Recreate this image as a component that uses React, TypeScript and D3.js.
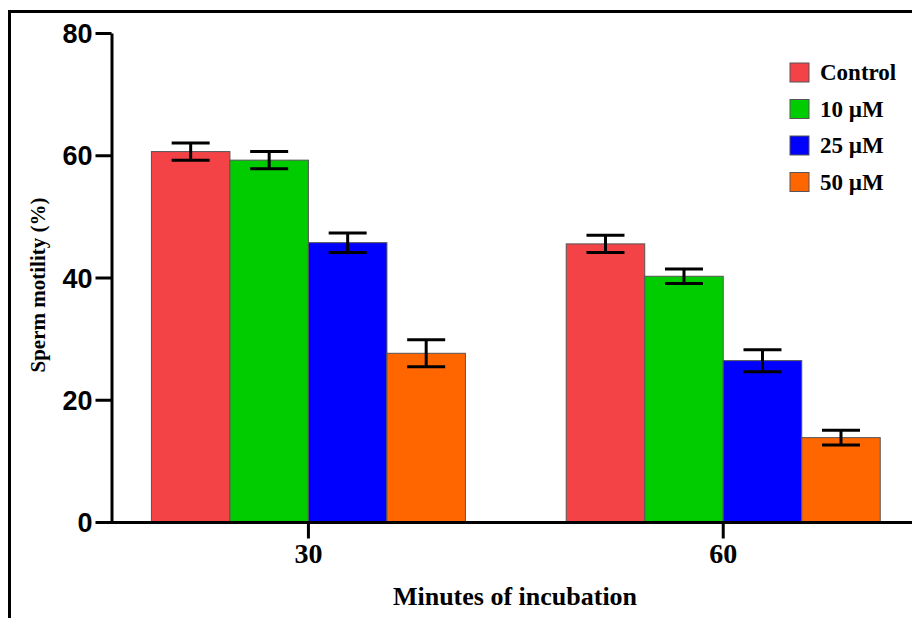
import React, { useEffect, useRef } from 'react';
import * as d3 from 'd3';

const groups = ['30', '60'];
const seriesNames = ['Control', '10 µM', '25 µM', '50 µM'];
const seriesColors = ['#f44346', '#00cc00', '#0000ff', '#ff6600'];
const means30 = [60.6, 59.2, 45.7, 27.6];
const means60 = [45.5, 40.2, 26.4, 13.8];
const err30 = [1.4, 1.4, 1.6, 2.2];
const err60 = [1.4, 1.2, 1.8, 1.2];
const yTicks = [0, 20, 40, 60, 80];

const W = 912;
const H = 618;
const SERIF = '"Liberation Serif", "Times New Roman", serif';

export default function App() {
	const ref = useRef<SVGSVGElement>(null);

	useEffect(() => {
		const svg = d3.select(ref.current);
		svg.selectAll('*').remove();

		// outer frame (top + left only, image is cropped)
		svg.append('line').attr('x1', 8).attr('x2', W).attr('y1', 11.5).attr('y2', 11.5)
			.attr('stroke', '#000').attr('stroke-width', 3);
		svg.append('line').attr('x1', 9.5).attr('x2', 9.5).attr('y1', 10).attr('y2', H)
			.attr('stroke', '#000').attr('stroke-width', 3);

		const x0 = d3.scaleBand().domain(groups).range([111, 912])
			.paddingInner(0.243).paddingOuter(0.087).align(0.56);
		const x1 = d3.scaleBand().domain(seriesNames).range([0, x0.bandwidth()]);
		const y = d3.scaleLinear().domain([0, 80]).range([522, 33]);

		const rows = groups.map((g, gi) => ({
			group: g,
			values: seriesNames.map((s, si) => ({
				name: s,
				color: seriesColors[si],
				mean: gi === 0 ? means30[si] : means60[si],
				err: gi === 0 ? err30[si] : err60[si]
			}))
		}));

		const g = svg.append('g');

		// bars
		const grp = g.selectAll('g.grp').data(rows).enter().append('g')
			.attr('class', 'grp')
			.attr('transform', d => 'translate(' + x0(d.group) + ',0)');
		grp.selectAll('rect').data(d => d.values).enter().append('rect')
			.attr('x', d => x1(d.name)!)
			.attr('y', d => y(d.mean))
			.attr('width', x1.bandwidth())
			.attr('height', d => y(0) - y(d.mean))
			.attr('fill', d => d.color)
			.attr('stroke', '#555')
			.attr('stroke-width', 1);

		// error bars
		const capHalf = 19;
		const eb = grp.selectAll('g.err').data(d => d.values).enter().append('g')
			.attr('class', 'err')
			.attr('transform', d => 'translate(' + (x1(d.name)! + x1.bandwidth() / 2) + ',0)');
		eb.append('line').attr('x1', 0).attr('x2', 0)
			.attr('y1', d => y(d.mean + d.err)).attr('y2', d => y(d.mean - d.err))
			.attr('stroke', '#000').attr('stroke-width', 3);
		eb.append('line').attr('x1', -capHalf).attr('x2', capHalf)
			.attr('y1', d => y(d.mean + d.err)).attr('y2', d => y(d.mean + d.err))
			.attr('stroke', '#000').attr('stroke-width', 3);
		eb.append('line').attr('x1', -capHalf).attr('x2', capHalf)
			.attr('y1', d => y(d.mean - d.err)).attr('y2', d => y(d.mean - d.err))
			.attr('stroke', '#000').attr('stroke-width', 3);

		// y axis
		const yAxis = d3.axisLeft(y).tickValues(yTicks).tickSize(16).tickPadding(3).tickSizeOuter(0);
		const yg = svg.append('g').attr('transform', 'translate(111.5,0)').call(yAxis);
		yg.select('.domain').attr('stroke-width', 3);
		yg.selectAll('.tick line').attr('stroke-width', 3);
		yg.selectAll('.tick text')
			.attr('font-family', '"Liberation Sans", Arial, sans-serif')
			.attr('font-weight', 'bold')
			.attr('font-size', 27)
			.attr('dy', '0.36em')
			.attr('fill', '#000');

		// x axis
		const xAxis = d3.axisBottom(x0).tickSize(16).tickPadding(5).tickSizeOuter(0);
		const xg = svg.append('g').attr('transform', 'translate(0,522.5)').call(xAxis);
		xg.select('.domain').attr('stroke-width', 3).attr('d', 'M111,0H' + W);
		xg.selectAll('.tick line').attr('stroke-width', 3);
		xg.selectAll('.tick text')
			.attr('font-family', SERIF)
			.attr('font-weight', 'bold')
			.attr('font-size', 28)
			.attr('fill', '#000');

		// axis titles
		svg.append('text')
			.attr('x', 515).attr('y', 605)
			.attr('text-anchor', 'middle')
			.attr('font-family', SERIF)
			.attr('font-weight', 'bold')
			.attr('font-size', 26)
			.text('Minutes of incubation');
		svg.append('text')
			.attr('transform', 'translate(45,285) rotate(-90)')
			.attr('text-anchor', 'middle')
			.attr('font-family', SERIF)
			.attr('font-weight', 'bold')
			.attr('font-size', 21)
			.text('Sperm motility (%)');

		// legend
		const lg = svg.append('g').attr('transform', 'translate(790,63)');
		const item = lg.selectAll('g').data(seriesNames).enter().append('g')
			.attr('transform', (d, i) => 'translate(0,' + i * 36.5 + ')');
		item.append('rect').attr('width', 19).attr('height', 19)
			.attr('fill', (d, i) => seriesColors[i])
			.attr('stroke', '#555').attr('stroke-width', 1);
		item.append('text').attr('x', 30).attr('y', 17)
			.attr('font-family', SERIF)
			.attr('font-weight', 'bold')
			.attr('font-size', 23)
			.text(d => d);
	}, []);

	return (
		<svg ref={ref} width={W} height={H}
			style={{ position: 'absolute', left: 0, top: 0, background: '#fff' }} />
	);
}
